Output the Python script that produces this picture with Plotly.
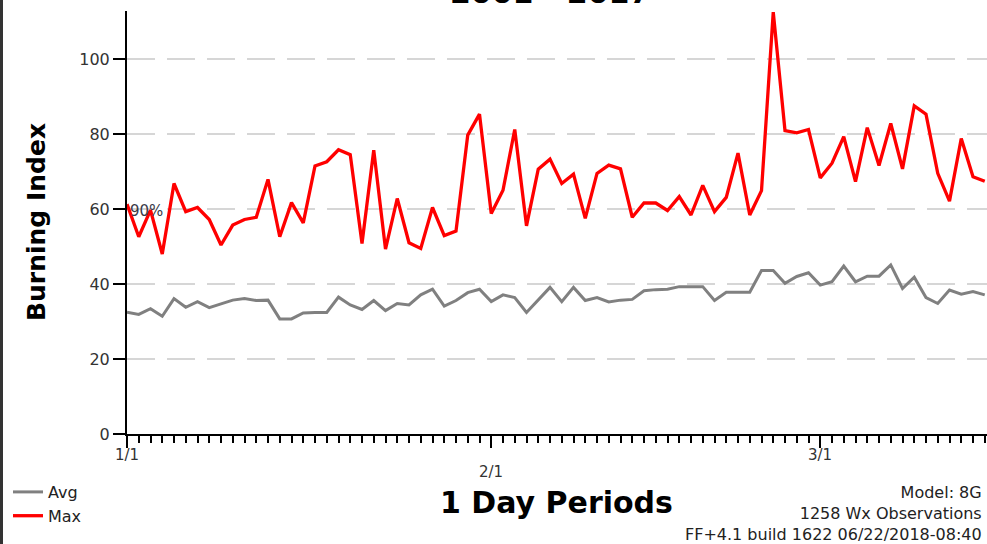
import plotly.graph_objects as go

# ---- data ----
days = list(range(74))  # day index from 1/1
avg_bi = [32.5, 31.9, 33.4, 31.4, 36.1, 33.8, 35.3, 33.7, 34.7, 35.7,
          36.1, 35.6, 35.7, 30.7, 30.7, 32.3, 32.4, 32.4, 36.5, 34.4,
          33.2, 35.6, 32.9, 34.8, 34.4, 37.1, 38.6, 34.1, 35.6, 37.7,
          38.6, 35.3, 37.1, 36.4, 32.4, 35.7, 39.1, 35.3, 39.1, 35.6,
          36.4, 35.2, 35.7, 35.9, 38.2, 38.5, 38.6, 39.3, 39.3, 39.3,
          35.6, 37.8, 37.8, 37.8, 43.6, 43.6, 40.2, 42.0, 43.0, 39.7,
          40.6, 44.8, 40.6, 42.1, 42.1, 45.1, 38.8, 41.8, 36.4, 34.8,
          38.4, 37.3, 38.0, 37.1]
max_bi = [61.3, 52.6, 59.7, 48.0, 66.8, 59.3, 60.4, 57.2, 50.4, 55.7,
          57.2, 57.8, 67.9, 52.6, 61.7, 56.3, 71.5, 72.6, 75.8, 74.5,
          50.8, 75.7, 49.3, 62.8, 51.0, 49.5, 60.4, 52.9, 54.1, 79.7,
          85.3, 58.8, 65.0, 81.2, 55.5, 70.6, 73.3, 66.8, 69.3, 57.5,
          69.5, 71.7, 70.7, 57.8, 61.6, 61.6, 59.6, 63.3, 58.4, 66.3,
          59.3, 63.1, 74.9, 58.4, 64.9, 112.5, 80.9, 80.3, 81.2, 68.3,
          72.2, 79.3, 67.3, 81.7, 71.6, 82.8, 70.7, 87.5, 85.3, 69.5,
          62.1, 78.8, 68.6, 67.4]
pct90 = 57.6
pct90_label = "90%"
date_labels = ["1/1", "2/1", "3/1"]
date_label_days = [0, 31, 59]
y_ticks = [0, 20, 40, 60, 80, 100]
title_text = "2001 - 2017"
x_title = "1 Day Periods"
y_title = "Burning Index"
info_lines = ["Model: 8G", "1258 Wx Observations", "FF+4.1 build 1622 06/22/2018-08:40"]

# ---- layout geometry ----
W, H = 987, 544
ML, MR, MT, MB = 127, 0, 11, 110
PW = W - ML - MR
PH = H - MT - MB


def px_x(p):
    return (p - ML) / PW


def px_y(p):
    return (H - MB - p) / PH


FONT = "DejaVu Sans"

fig = go.Figure()
fig.add_trace(go.Scatter(x=days, y=avg_bi, mode="lines", name="Avg",
                         line=dict(color="#808080", width=3)))
fig.add_trace(go.Scatter(x=days, y=max_bi, mode="lines", name="Max",
                         line=dict(color="#ff0000", width=3.3)))

fig.add_hline(y=pct90, line=dict(color="black", width=1.5))

annotations = []
annotations.append(dict(text=pct90_label, x=0, xref="x", y=pct90, yref="y",
                        xanchor="left", yanchor="bottom", showarrow=False, xshift=1, yshift=-4,
                        font=dict(family=FONT, size=15, color="#3a3a48")))
for lab, d, py in zip(date_labels, date_label_days, [455, 472, 455]):
    annotations.append(dict(text=lab, x=d, xref="x", y=px_y(py), yref="paper",
                            xanchor="center", yanchor="middle", showarrow=False,
                            font=dict(family=FONT, size=15, color="#333333")))
annotations.append(dict(text="<b>%s</b>" % title_text, x=px_x(550), xref="paper",
                        y=px_y(12), yref="paper", xanchor="center", yanchor="bottom",
                        showarrow=False, font=dict(family=FONT, size=30, color="black")))
annotations.append(dict(text="<b>%s</b>" % x_title, x=px_x(556), xref="paper",
                        y=px_y(503), yref="paper", xanchor="center", yanchor="middle",
                        showarrow=False, font=dict(family=FONT, size=30, color="black")))
annotations.append(dict(text="<b>%s</b>" % y_title, x=px_x(36), xref="paper",
                        y=px_y(222), yref="paper", xanchor="center", yanchor="middle",
                        textangle=-90, showarrow=False,
                        font=dict(family=FONT, size=25, color="black")))
annotations.append(dict(text="<br>".join(info_lines), x=px_x(984), xref="paper",
                        y=px_y(513), yref="paper", xanchor="right", yanchor="middle",
                        align="right", showarrow=False,
                        font=dict(family=FONT, size=16, color="#222222")))

fig.update_layout(
    width=W, height=H, autosize=False,
    margin=dict(l=ML, r=MR, t=MT, b=MB, pad=0),
    paper_bgcolor="white", plot_bgcolor="white",
    showlegend=True,
    legend=dict(x=px_x(8), y=px_y(475), xanchor="left", yanchor="top",
                font=dict(family=FONT, size=16, color="#222222"),
                itemwidth=30, tracegroupgap=0, bgcolor="rgba(0,0,0,0)"),
    annotations=annotations,
    shapes=[dict(type="line", xref="paper", yref="paper",
                 x0=px_x(1.5), x1=px_x(1.5), y0=px_y(H), y1=px_y(0),
                 line=dict(color="#333333", width=3))],
    xaxis=dict(range=[0, PW / 11.75], showline=True, linecolor="black", linewidth=2,
               ticks="outside", tickvals=date_label_days, ticklen=12, tickwidth=1.5,
               tickcolor="black", showticklabels=False, showgrid=False, zeroline=False,
               minor=dict(dtick=1, tick0=0, ticks="outside", ticklen=7, tickwidth=1.5,
                          tickcolor="black", showgrid=False)),
    yaxis=dict(range=[0, PH / 3.75], showline=True, linecolor="black", linewidth=2,
               ticks="outside", tickvals=y_ticks, ticklen=12, tickwidth=1.5, tickcolor="black",
               tickfont=dict(family=FONT, size=16, color="#333333"),
               showgrid=True, gridcolor="#d6d6d6", gridwidth=2, griddash="28px,12px",
               zeroline=False),
)

fig.write_html("out.html", config={"displayModeBar": False},
               post_script="document.body.style.margin='0';")
